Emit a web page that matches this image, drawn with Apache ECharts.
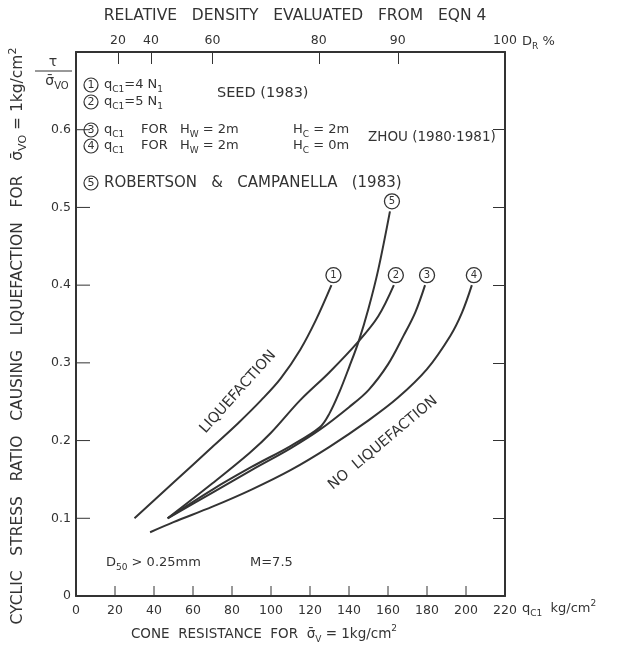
<!DOCTYPE html>
<html><head><meta charset="utf-8">
<script src="https://cdn.jsdelivr.net/npm/echarts@6/dist/echarts.min.js"></script>
<style>html,body{margin:0;padding:0;background:#fff}#c{width:633px;height:647px}</style>
</head><body><div id="c"></div>
<script>
// ---- data ----
const xTickValues = [0,20,40,60,80,100,120,140,160,180,200,220];
const yTickValues = [0,0.1,0.2,0.3,0.4,0.5,0.6];
const drLabels = ['20','40','60','80','90','100'];
const drPositions = [21.5, 38.5, 70, 124.5, 165, 220];

const curve1X = [30, 50, 70, 83, 95, 105, 115, 123, 131];
const curve1Y = [0.10, 0.146, 0.192, 0.222, 0.252, 0.28, 0.317, 0.355, 0.40];
const curve2X = [47, 70, 89, 100, 115, 130, 145, 155, 163];
const curve2Y = [0.10, 0.145, 0.184, 0.21, 0.252, 0.288, 0.328, 0.36, 0.40];
const curve3X = [47, 70, 90, 110, 125, 140, 150, 160, 168, 174, 179];
const curve3Y = [0.10, 0.133, 0.162, 0.19, 0.214, 0.243, 0.265, 0.298, 0.335, 0.365, 0.40];
const curve4X = [38, 50, 70, 90, 110, 130, 150, 165, 180, 192, 198, 203];
const curve4Y = [0.082, 0.095, 0.115, 0.137, 0.162, 0.192, 0.226, 0.255, 0.292, 0.335, 0.365, 0.40];
const curve5X = [47, 70, 90, 110, 125, 130, 135, 140, 145, 150, 155, 161];
const curve5Y = [0.10, 0.137, 0.166, 0.193, 0.217, 0.235, 0.262, 0.294, 0.328, 0.37, 0.42, 0.495];
const curveNames = ['1','2','3','4','5'];

// ---- chart ----
const INK = '#333';
const FONT = '"DejaVu Sans", "Liberation Sans", sans-serif';
const curvesX = [curve1X, curve2X, curve3X, curve4X, curve5X];
const curvesY = [curve1Y, curve2Y, curve3Y, curve4Y, curve5Y];

const series = curvesX.map((xs, i) => {
  const ys = curvesY[i];
  const data = xs.map((x, j) => [x, ys[j]]);
  const last = data[data.length - 1];
  return {
    type: 'line', name: curveNames[i], data, smooth: 0.35, showSymbol: false, silent: true,
    xAxisIndex: 0, yAxisIndex: 0,
    lineStyle: { color: INK, width: 2 },
    markPoint: {
      silent: true, symbol: 'circle', symbolSize: 15, symbolOffset: [2, -10],
      itemStyle: { color: '#fff', borderColor: INK, borderWidth: 1.3 },
      label: { show: true, position: 'inside', formatter: curveNames[i], color: INK, fontSize: 10, fontFamily: FONT },
      data: [{ coord: last }]
    }
  };
});

// inward tick marks on the bottom and left axes, placed through the axis scales
series.push({
  type: 'custom', silent: true, xAxisIndex: 0, yAxisIndex: 0, clip: false, z: 5,
  data: xTickValues.slice(1, -1).map(v => [v, yTickValues[0]]),
  renderItem: (params, api) => {
    const p = api.coord([api.value(0), api.value(1)]);
    return { type: 'line', shape: { x1: p[0], y1: p[1], x2: p[0], y2: p[1] - 10 }, style: { stroke: INK, lineWidth: 1 } };
  }
});
series.push({
  type: 'custom', silent: true, xAxisIndex: 0, yAxisIndex: 0, clip: false, z: 5,
  data: yTickValues.slice(1).map(v => [xTickValues[0], v]),
  renderItem: (params, api) => {
    const p = api.coord([api.value(0), api.value(1)]);
    return { type: 'line', shape: { x1: p[0], y1: p[1], x2: p[0] + 14, y2: p[1] }, style: { stroke: INK, lineWidth: 1 } };
  }
});

function mk(fs) {
  return {
    t: { fontSize: fs, color: INK, fontFamily: FONT, lineHeight: fs + 6 },
    s: { fontSize: Math.round(fs * 0.68), color: INK, fontFamily: FONT, lineHeight: fs + 6, verticalAlign: 'bottom' },
    p: { fontSize: Math.round(fs * 0.68), color: INK, fontFamily: FONT, lineHeight: fs + 6, verticalAlign: 'top' },
    c: { fontSize: 11, color: INK, fontFamily: FONT, width: 14, height: 14, lineHeight: 14, align: 'center',
         borderColor: INK, borderWidth: 1.2, borderRadius: 8 }
  };
}
function T(x, y, text, o) {
  o = o || {};
  const fs = o.fs || 13;
  return { type: 'text', x, y, rotation: o.rot || 0, silent: true,
    style: { text, x: 0, y: 0, rich: mk(fs), fill: INK, font: fs + 'px ' + FONT,
      textAlign: o.align || 'left', textVerticalAlign: 'middle' } };
}
function row(y, num, pieces, fs) {
  const out = [T(84, y, '{c|' + num + '}')];
  pieces.forEach(p => out.push(T(p[0], y, p[1], { fs: fs || 13 })));
  return out;
}

const graphic = [
  T(295, 16, '{t|RELATIVE   DENSITY   EVALUATED   FROM   EQN 4}', { align: 'center', fs: 15.5 }),
  T(522, 42, '{t|D}{s|R}{t| %}'),
  T(522, 609, '{t|q}{s|C1}{t|  kg/cm}{p|2}'),
  T(264, 634, '{t|CONE  RESISTANCE  FOR  σ̄}{s|V}{t| = 1kg/cm}{p|2}', { align: 'center', fs: 13.5 }),
  T(18, 336, '{t|CYCLIC   STRESS   RATIO   CAUSING   LIQUEFACTION   FOR   σ̄}{s|VO}{t| = 1kg/cm}{p|2}', { align: 'center', rot: Math.PI / 2, fs: 15.5 }),
  T(53, 62, '{t|τ}', { align: 'center', fs: 14 }),
  { type: 'line', silent: true, shape: { x1: 35, y1: 71, x2: 72, y2: 71 }, style: { stroke: INK, lineWidth: 1 } },
  T(57, 81, '{t|σ̄}{s|VO}', { align: 'center', fs: 14 }),
  ...row(85, '1', [[104, '{t|q}{s|C1}{t|=4 N}{s|1}']]),
  ...row(102, '2', [[104, '{t|q}{s|C1}{t|=5 N}{s|1}']]),
  T(217, 93, '{t|SEED (1983)}', { fs: 14.5 }),
  ...row(130, '3', [[104, '{t|q}{s|C1}'], [141, '{t|FOR}'], [180, '{t|H}{s|W}{t| = 2m}'], [293, '{t|H}{s|C}{t| = 2m}']]),
  ...row(146, '4', [[104, '{t|q}{s|C1}'], [141, '{t|FOR}'], [180, '{t|H}{s|W}{t| = 2m}'], [293, '{t|H}{s|C}{t| = 0m}']]),
  T(368, 137, '{t|ZHOU (1980·1981)}', { fs: 13.5 }),
  ...row(183, '5', [[104, '{t|ROBERTSON   &   CAMPANELLA   (1983)}']], 15),
  T(106, 563, '{t|D}{s|50}{t| > 0.25mm}'),
  T(250, 563, '{t|M=7.5}'),
  T(238, 392, '{t|LIQUEFACTION}', { align: 'center', rot: 48 * Math.PI / 180, fs: 14.5 }),
  T(383, 443, '{t|NO  LIQUEFACTION}', { align: 'center', rot: 40 * Math.PI / 180, fs: 14.5 })
];

const chart = echarts.init(document.getElementById('c'), null, { renderer: 'canvas' });
chart.setOption({
  animation: false,
  backgroundColor: '#fff',
  textStyle: { fontFamily: FONT, color: INK },
  grid: { left: 76, right: 128, top: 52, bottom: 51 },
  xAxis: [
    { type: 'value', position: 'bottom', min: xTickValues[0], max: xTickValues[xTickValues.length - 1], interval: 20,
      axisLine: { show: true, onZero: false, lineStyle: { color: INK, width: 2 } },
      axisTick: { show: false },
      axisLabel: { color: INK, fontSize: 12.5, margin: 8, fontFamily: FONT,
        formatter: v => xTickValues.indexOf(v) >= 0 ? String(v) : '' },
      splitLine: { show: false } },
    { type: 'value', position: 'top', min: 0, max: 220,
      axisLine: { show: true, onZero: false, lineStyle: { color: INK, width: 2 } },
      axisTick: { show: true, inside: true, length: 12, customValues: drPositions, lineStyle: { color: INK, width: 1 } },
      axisLabel: { color: INK, fontSize: 12.5, margin: 5, fontFamily: FONT, customValues: drPositions,
        formatter: v => { const i = drPositions.indexOf(v); return i >= 0 ? drLabels[i] : ''; } },
      splitLine: { show: false } }
  ],
  yAxis: [
    { type: 'value', position: 'left', min: 0, max: 0.7, interval: 0.1,
      axisLine: { show: true, onZero: false, lineStyle: { color: INK, width: 2 } },
      axisTick: { show: false },
      axisLabel: { color: INK, fontSize: 12.5, margin: 5, fontFamily: FONT,
        formatter: v => { const r = Math.round(v * 10) / 10; return yTickValues.indexOf(r) < 0 ? '' : (r === 0 ? '0' : r.toFixed(1)); } },
      splitLine: { show: false } },
    { type: 'value', position: 'right', min: 0, max: 0.7, interval: 0.1,
      axisLine: { show: true, onZero: false, lineStyle: { color: INK, width: 2 } },
      axisTick: { show: true, inside: true, length: 12, lineStyle: { color: INK, width: 1 } },
      axisLabel: { show: false }, splitLine: { show: false } }
  ],
  series,
  graphic
});
</script></body></html>
